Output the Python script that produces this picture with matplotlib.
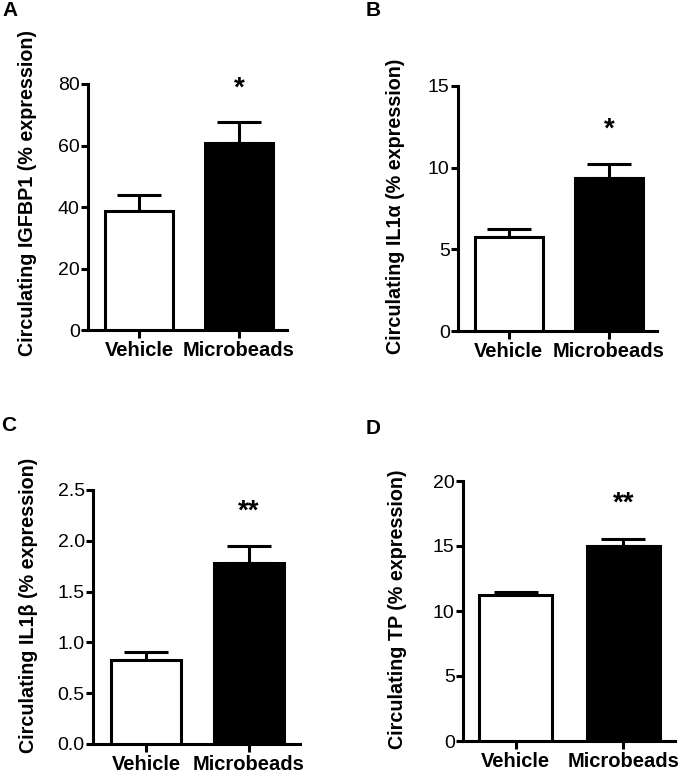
import matplotlib
matplotlib.use("Agg")
import matplotlib.pyplot as plt

plt.rcParams['font.family'] = ['Liberation Sans', 'DejaVu Sans']

groups = ['Vehicle', 'Microbeads']
colors = ['white', 'black']

panels = ['A', 'B', 'C', 'D']
ylabels = ['Circulating IGFBP1 (% expression)',
           'Circulating IL1\u03b1 (% expression)',
           'Circulating IL1\u03b2 (% expression)',
           'Circulating TP (% expression)']
means = [[38.8, 60.7], [5.77, 9.39], [0.83, 1.78], [11.23, 15.0]]
sems = [[5.1, 6.8], [0.46, 0.84], [0.075, 0.17], [0.2, 0.54]]
stars = ['*', '*', '**', '**']
ymax = [80, 15, 2.5, 20]
yticks = [[0, 20, 40, 60, 80], [0, 5, 10, 15],
          [0.0, 0.5, 1.0, 1.5, 2.0, 2.5], [0, 5, 10, 15, 20]]
ytick_labels = [['0', '20', '40', '60', '80'], ['0', '5', '10', '15'],
                ['0.0', '0.5', '1.0', '1.5', '2.0', '2.5'],
                ['0', '5', '10', '15', '20']]

W, H = 683, 776
# axes boxes in pixels: left, right, top, bottom
boxes = [(88, 287, 84, 330), (458, 657, 86, 331),
         (93, 300, 490, 744), (463, 675, 481, 741)]
xlims = [(-0.51, 1.48), (-0.505, 1.48), (-0.52, 1.50), (-0.49, 1.48)]
label_y = [0.557, 0.51, 0.547, 0.507]
label_x = [37, 405, 38, 407]
letter_pos = [(2, 11), (366, 11), (1, 425), (366, 428)]

fig = plt.figure(figsize=(W / 100, H / 100), dpi=100)

for i in range(4):
    l, r, t, b = boxes[i]
    ax = fig.add_axes([l / W, 1 - b / H, (r - l) / W, (b - t) / H])
    x = [0, 1]
    ax.bar(x, means[i], width=0.68, color=colors, edgecolor='black',
           linewidth=2.2, zorder=3)
    ax.errorbar(x, means[i], yerr=[[0, 0], sems[i]], fmt='none',
                ecolor='black', elinewidth=2.2, capsize=16, capthick=2.2,
                zorder=2)
    top = means[i][1] + sems[i][1]
    ax.text(1, top + 0.085 * ymax[i], stars[i], ha='center', va='bottom',
            fontsize=20, fontweight='bold')
    ax.set_xlim(*xlims[i])
    ax.set_ylim(0, ymax[i])
    ax.set_yticks(yticks[i])
    ax.set_yticklabels(ytick_labels[i], fontsize=14)
    ax.set_xticks(x)
    ax.set_xticklabels(groups, fontsize=14.5, fontweight='bold')
    ax.tick_params(axis='y', length=5, width=2.2, pad=1)
    ax.tick_params(axis='x', length=6, width=2.2, pad=2)
    for s in ['top', 'right']:
        ax.spines[s].set_visible(False)
    for s in ['left', 'bottom']:
        ax.spines[s].set_linewidth(2.2)
    ax.set_ylabel(ylabels[i], fontsize=14.2, fontweight='bold')
    ax.yaxis.set_label_coords((label_x[i] - l) / (r - l), label_y[i])
    fig.text(letter_pos[i][0] / W, 1 - letter_pos[i][1] / H, panels[i],
             fontsize=15, fontweight='bold', ha='left', va='center')

fig.savefig('out.png', dpi=100)
